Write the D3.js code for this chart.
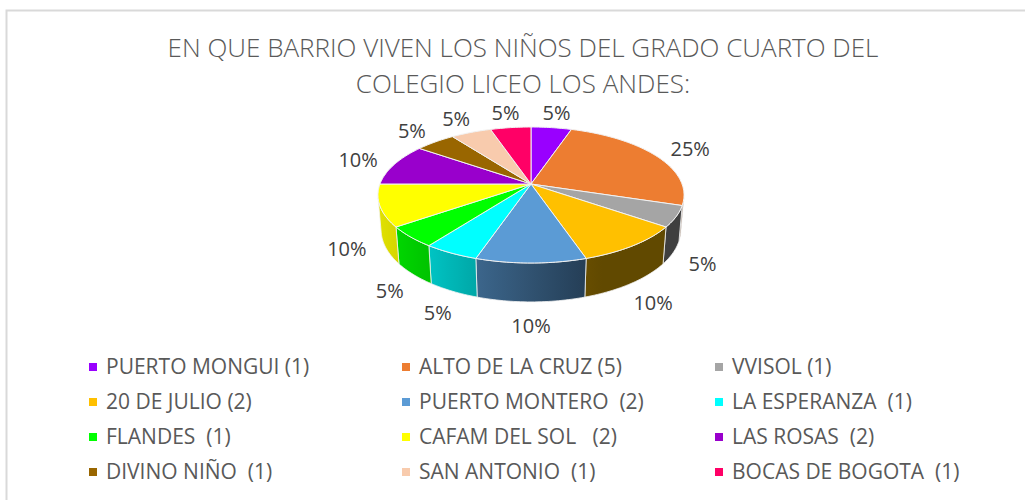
<!DOCTYPE html>
<html>
<head>
<meta charset="utf-8">
<script src="https://cdn.jsdelivr.net/npm/d3@7"></script>
<style>
  html, body { margin: 0; padding: 0; background: #fff; }
  text { white-space: pre; }
</style>
</head>
<body>
<div id="chart"></div>
<script>
// data
var barrios = ["PUERTO MONGUI (1)", "ALTO DE LA CRUZ (5)", "VVISOL (1)",
    "20 DE JULIO (2)", "PUERTO MONTERO  (2)", "LA ESPERANZA  (1)",
    "FLANDES  (1)", "CAFAM DEL SOL   (2)", "LAS ROSAS  (2)",
    "DIVINO NIÑO  (1)", "SAN ANTONIO  (1)", "BOCAS DE BOGOTA  (1)"];
var ninos = [1, 5, 1, 2, 2, 1, 1, 2, 2, 1, 1, 1];
var colores = ["#9900ff", "#ed7d31", "#a5a5a5", "#ffc000", "#5b9bd5", "#00ffff",
    "#00ff00", "#ffff00", "#9900cc", "#996600", "#f8cbad", "#ff0066"];
var titulo = ["EN QUE BARRIO VIVEN LOS NIÑOS DEL GRADO CUARTO DEL",
    "COLEGIO LICEO LOS ANDES:"];

var width = 1025, height = 500;

var svg = d3.select("#chart").append("svg")
    .attr("width", width)
    .attr("height", height);

// chart frame (only top and left edges show)
svg.append("rect")
    .attr("x", 6.5).attr("y", 10.5)
    .attr("width", 1040).attr("height", 520)
    .attr("fill", "none")
    .attr("stroke", "#d9d9d9")
    .attr("stroke-width", 2);

// title
svg.append("g").selectAll("text")
    .data(titulo)
    .enter().append("text")
    .attr("x", 523)
    .attr("y", (d, i) => 57 + i * 36)
    .attr("text-anchor", "middle")
    .style("font-family", "'Open Sans', sans-serif")
    .style("font-weight", 300)
    .style("font-size", "26px")
    .style("fill", "#595959")
    .text(d => d);

// 3d pie, simple perspective camera
const cx = 531, cy = 184;
const sinA = 0.4385, cosA = Math.sqrt(1 - sinA * sinA);
const D = 5.55, F = 151 * D, H = 0.258;

function project(theta, r, w) {
    const u = r * Math.sin(theta), v = r * Math.cos(theta);
    const yUp = v * sinA + w * cosA;
    const dist = D + v * cosA - w * sinA;
    return [cx + F * u / dist, cy - F * yUp / dist];
}

function arcPoints(a0, a1, w) {
    const n = Math.max(2, Math.ceil(Math.abs(a1 - a0) / 0.02));
    const pts = [];
    for (let i = 0; i <= n; i++) {
        pts.push(project(a0 + (a1 - a0) * i / n, 1, w));
    }
    return pts;
}

function shade(color, u) {
    const f = Math.max(0.38, 0.53 - 0.35 * u);
    const c = d3.rgb(color);
    return d3.rgb(c.r * f, c.g * f, c.b * f).formatHex();
}

const pie = d3.pie().sort(null).value(d => d);
const slices = pie(ninos);
const total = d3.sum(ninos);
const line = d3.line();

// walls visible where the outer face looks at the camera
const vis0 = Math.acos(-1 / (D * cosA));
const vis1 = 2 * Math.PI - vis0;

const defs = svg.append("defs");
const walls = svg.append("g");
const tops = svg.append("g");

slices.forEach(function (s, i) {
    const b0 = Math.max(s.startAngle, vis0);
    const b1 = Math.min(s.endAngle, vis1);
    if (b1 <= b0) return;
    const upper = arcPoints(b0, b1, 0);
    const lower = arcPoints(b1, b0, -H);
    const xs = upper.map(p => p[0]);
    const xMin = d3.min(xs), xMax = d3.max(xs);
    const grad = defs.append("linearGradient")
        .attr("id", "wall" + i)
        .attr("gradientUnits", "userSpaceOnUse")
        .attr("x1", xMin).attr("x2", xMax)
        .attr("y1", 0).attr("y2", 0);
    d3.range(6).forEach(function (k) {
        const x = xMin + (xMax - xMin) * k / 5;
        const u = (x - cx) / 151;
        grad.append("stop")
            .attr("offset", k / 5)
            .attr("stop-color", shade(colores[i], u));
    });
    walls.append("path")
        .attr("d", line(upper.concat(lower)) + "Z")
        .attr("fill", "url(#wall" + i + ")")
        .attr("stroke", "#f2f2f2")
        .attr("stroke-width", 0.8);
});

slices.forEach(function (s, i) {
    const pts = [project(0, 0, 0)].concat(arcPoints(s.startAngle, s.endAngle, 0));
    tops.append("path")
        .attr("d", line(pts) + "Z")
        .attr("fill", colores[i])
        .attr("stroke", "#f2f2f2")
        .attr("stroke-width", 1)
        .attr("stroke-linejoin", "round");
});

// percent labels, outside end
const pct = d3.format(".0%");
svg.append("g").selectAll("text")
    .data(slices)
    .enter().append("text")
    .each(function (s) {
        const m = (s.startAngle + s.endAngle) / 2;
        const front = Math.cos(m) < 0;
        const p = project(m, 1, front ? -H : 0);
        const txt = pct(s.value / total);
        const hw = txt.length > 2 ? 18 : 13;
        const x = p[0] + Math.sin(m) * (hw + 20);
        const y = p[1] - Math.cos(m) * (front ? 24 : 15);
        d3.select(this)
            .attr("x", x)
            .attr("y", y)
            .attr("dy", "0.35em")
            .attr("text-anchor", "middle")
            .text(txt);
    })
    .style("font-family", "'Open Sans', sans-serif")
    .style("font-size", "20px")
    .style("fill", "#404040");

// legend
const colX = d3.scaleLinear().domain([0, 2]).range([89, 715]);
const rowY = d3.scaleLinear().domain([0, 3]).range([367, 472]);

const items = svg.append("g").selectAll("g")
    .data(barrios)
    .enter().append("g")
    .attr("transform", (d, i) => "translate(" + colX(i % 3) + "," + rowY(Math.floor(i / 3)) + ")");

items.append("rect")
    .attr("x", 0).attr("y", -4)
    .attr("width", 8).attr("height", 8)
    .attr("fill", (d, i) => colores[i]);

items.append("text")
    .attr("x", 17)
    .attr("dy", "0.35em")
    .style("font-family", "'Open Sans', sans-serif")
    .style("font-size", "21px")
    .style("fill", "#595959")
    .text(d => d);
</script>
</body>
</html>
